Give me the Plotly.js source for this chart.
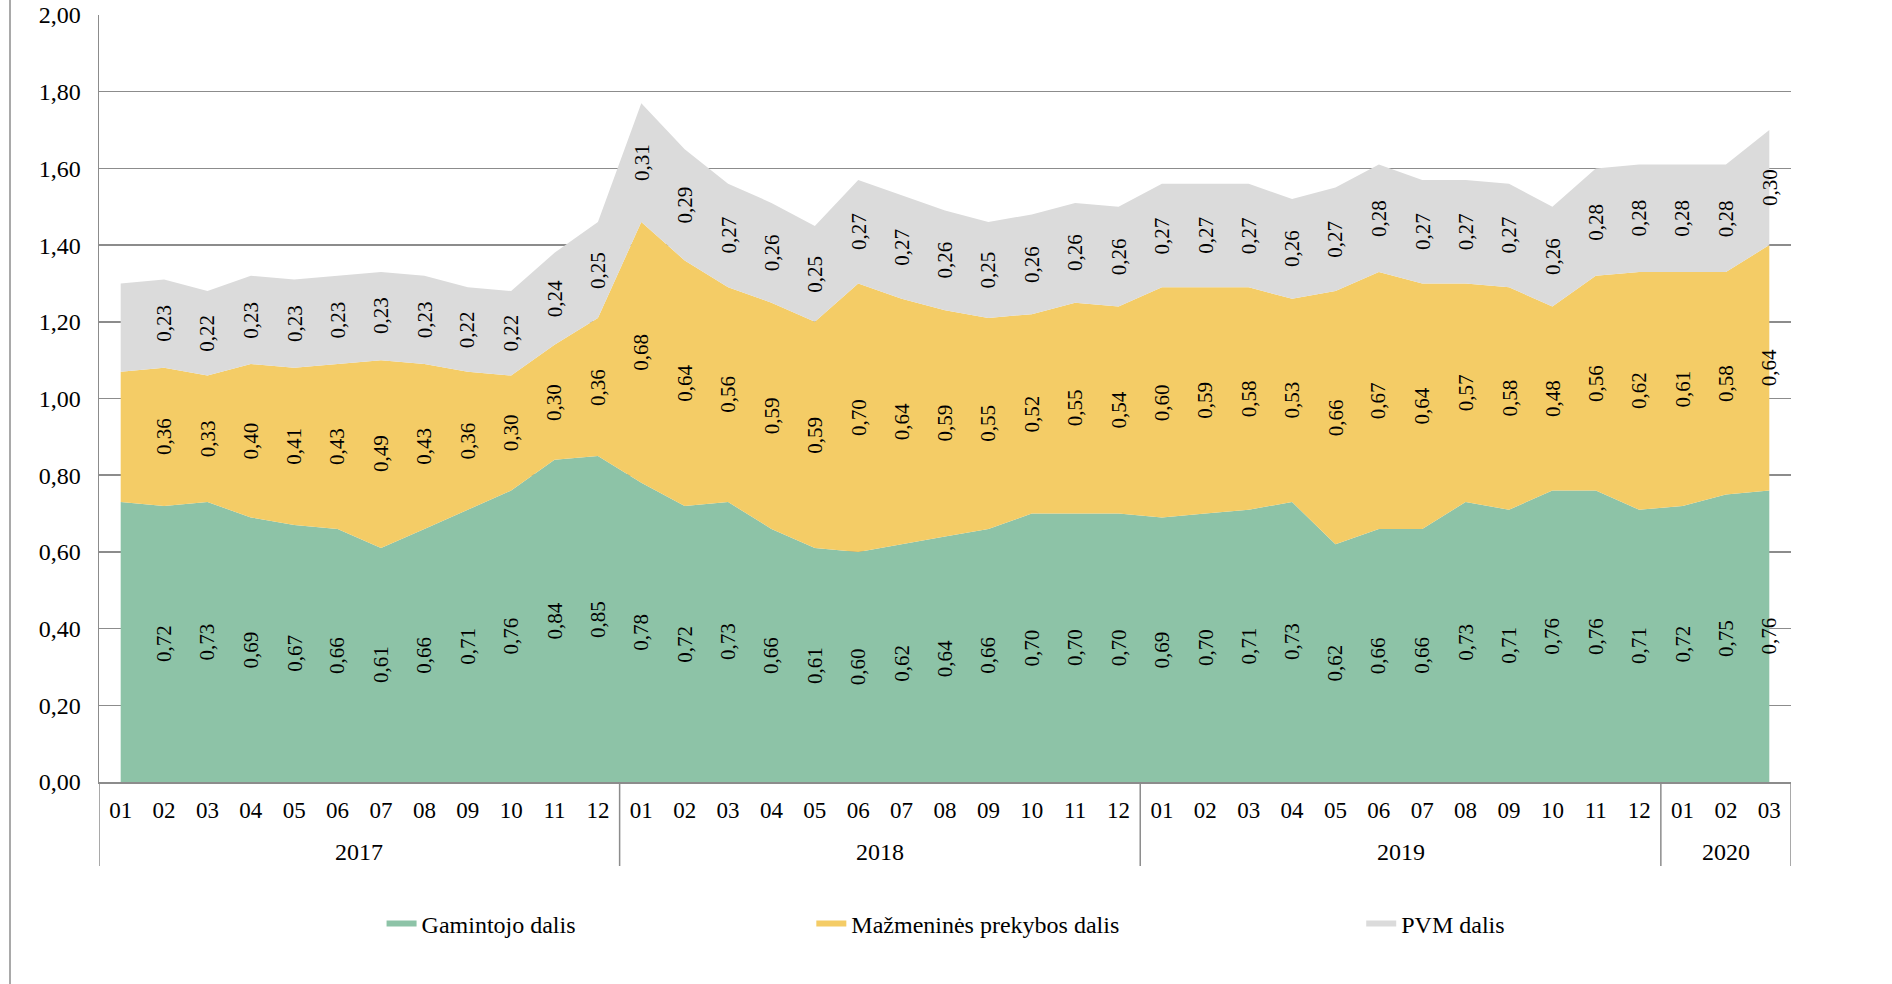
<!DOCTYPE html>
<html>
<head>
<meta charset="utf-8">
<script src="https://cdn.plot.ly/plotly-3.0.1.min.js"></script>
<style>html,body{margin:0;padding:0;background:#fff;}#chart{width:1892px;height:984px;}</style>
</head>
<body>
<div id="chart"></div>
<script>
const years = ['2017','2017','2017','2017','2017','2017','2017','2017','2017','2017','2017','2017',
               '2018','2018','2018','2018','2018','2018','2018','2018','2018','2018','2018','2018',
               '2019','2019','2019','2019','2019','2019','2019','2019','2019','2019','2019','2019',
               '2020','2020','2020'];
const months = ['01','02','03','04','05','06','07','08','09','10','11','12',
                '01','02','03','04','05','06','07','08','09','10','11','12',
                '01','02','03','04','05','06','07','08','09','10','11','12',
                '01','02','03'];
const gamintojo = [0.73,0.72,0.73,0.69,0.67,0.66,0.61,0.66,0.71,0.76,0.84,0.85,
                   0.78,0.72,0.73,0.66,0.61,0.60,0.62,0.64,0.66,0.70,0.70,0.70,
                   0.69,0.70,0.71,0.73,0.62,0.66,0.66,0.73,0.71,0.76,0.76,0.71,
                   0.72,0.75,0.76];
const mazmenines = [0.34,0.36,0.33,0.40,0.41,0.43,0.49,0.43,0.36,0.30,0.30,0.36,
                    0.68,0.64,0.56,0.59,0.59,0.70,0.64,0.59,0.55,0.52,0.55,0.54,
                    0.60,0.59,0.58,0.53,0.66,0.67,0.64,0.57,0.58,0.48,0.56,0.62,
                    0.61,0.58,0.64];
const pvm = [0.23,0.23,0.22,0.23,0.23,0.23,0.23,0.23,0.22,0.22,0.24,0.25,
             0.31,0.29,0.27,0.26,0.25,0.27,0.27,0.26,0.25,0.26,0.26,0.26,
             0.27,0.27,0.27,0.26,0.27,0.28,0.27,0.27,0.27,0.26,0.28,0.28,
             0.28,0.28,0.30];
const seriesNames = ['Gamintojo dalis','Mažmeninės prekybos dalis','PVM dalis'];
const seriesColors = ['#8DC3A7','#F4CC66','#DBDBDB'];
const labelStart = 1; // first month carries no value label in the original

const FONT = 'Liberation Serif, Tinos, Times New Roman, Times, DejaVu Serif, serif';
const GRID = '#8c8c8c';
const idx = months.map((_, i) => i);
const series = [gamintojo, mazmenines, pvm];
const legendIds = ['legend','legend2','legend3'];

const traces = series.map((vals, k) => ({
  type: 'scatter',
  x: idx,
  y: vals,
  name: seriesNames[k],
  stackgroup: 'one',
  mode: 'none',
  fillcolor: seriesColors[k],
  hoverinfo: 'skip',
  legend: legendIds[k]
}));

const annotations = [];
const fmt = v => v.toFixed(2).replace('.', ',');
for (let i = labelStart; i < months.length; i++) {
  let base = 0;
  series.forEach(vals => {
    annotations.push({
      xref: 'x', yref: 'y',
      x: i, y: base + vals[i] / 2,
      text: fmt(vals[i]),
      textangle: -90,
      showarrow: false,
      font: {family: FONT, size: 21, color: '#000'}
    });
    base += vals[i];
  });
}

// year groups: labels centred under their months, dividers at group edges
const shapes = [];
const groups = [];
years.forEach((y, i) => {
  const g = groups[groups.length - 1];
  if (g && g.year === y) g.end = i; else groups.push({year: y, start: i, end: i});
});
groups.forEach(g => {
  annotations.push({
    xref: 'x', yref: 'paper', x: (g.start + g.end) / 2, y: -0.0913,
    yanchor: 'middle', text: g.year, showarrow: false,
    font: {family: FONT, size: 24, color: '#000'}
  });
  shapes.push({
    type: 'line', xref: 'x', yref: 'paper', x0: g.start - 0.5, x1: g.start - 0.5,
    y0: 0, y1: -0.1095, line: {color: GRID, width: 1.5}
  });
});
const last = groups[groups.length - 1];
shapes.push({
  type: 'line', xref: 'x', yref: 'paper', x0: last.end + 0.5, x1: last.end + 0.5,
  y0: 0, y1: -0.1095, line: {color: GRID, width: 1.5}
});
// outer chart frame edge on the left
shapes.push({
  type: 'line', xref: 'paper', yref: 'paper',
  x0: -0.0526, x1: -0.0526, y0: -0.27, y1: 1.03,
  line: {color: GRID, width: 1.5}
});

const legendBase = {
  orientation: 'h', yanchor: 'middle', xanchor: 'left', y: -0.185,
  font: {family: FONT, size: 24, color: '#000'},
  bgcolor: 'rgba(0,0,0,0)', itemwidth: 30, itemclick: false, itemdoubleclick: false
};

const layout = {
  width: 1892, height: 984,
  margin: {l: 99, r: 101, t: 15, b: 202},
  paper_bgcolor: '#fff', plot_bgcolor: '#fff',
  separators: ', ',
  font: {family: FONT, color: '#000'},
  showlegend: true,
  legend: Object.assign({}, legendBase, {x: 0.167}),
  legend2: Object.assign({}, legendBase, {x: 0.421}),
  legend3: Object.assign({}, legendBase, {x: 0.746}),
  xaxis: {
    type: 'linear',
    range: [-0.5, months.length - 0.5],
    tickmode: 'array', tickvals: idx, ticktext: months,
    showline: true, linecolor: GRID, linewidth: 1.5,
    showgrid: false, zeroline: false, ticks: '',
    ticklabelstandoff: 7,
    tickfont: {family: FONT, size: 23, color: '#000'}
  },
  yaxis: {
    range: [0, 2],
    tickvals: [0,0.2,0.4,0.6,0.8,1.0,1.2,1.4,1.6,1.8,2.0],
    tickformat: '.2f',
    showgrid: true, gridcolor: GRID, gridwidth: 1.5,
    showline: true, linecolor: GRID, linewidth: 1.5,
    zeroline: false, ticks: '', ticklabelstandoff: 12,
    tickfont: {family: FONT, size: 24, color: '#000'}
  },
  annotations: annotations,
  shapes: shapes
};

Plotly.newPlot('chart', traces, layout, {displayModeBar: false, staticPlot: true});
</script>
</body>
</html>
